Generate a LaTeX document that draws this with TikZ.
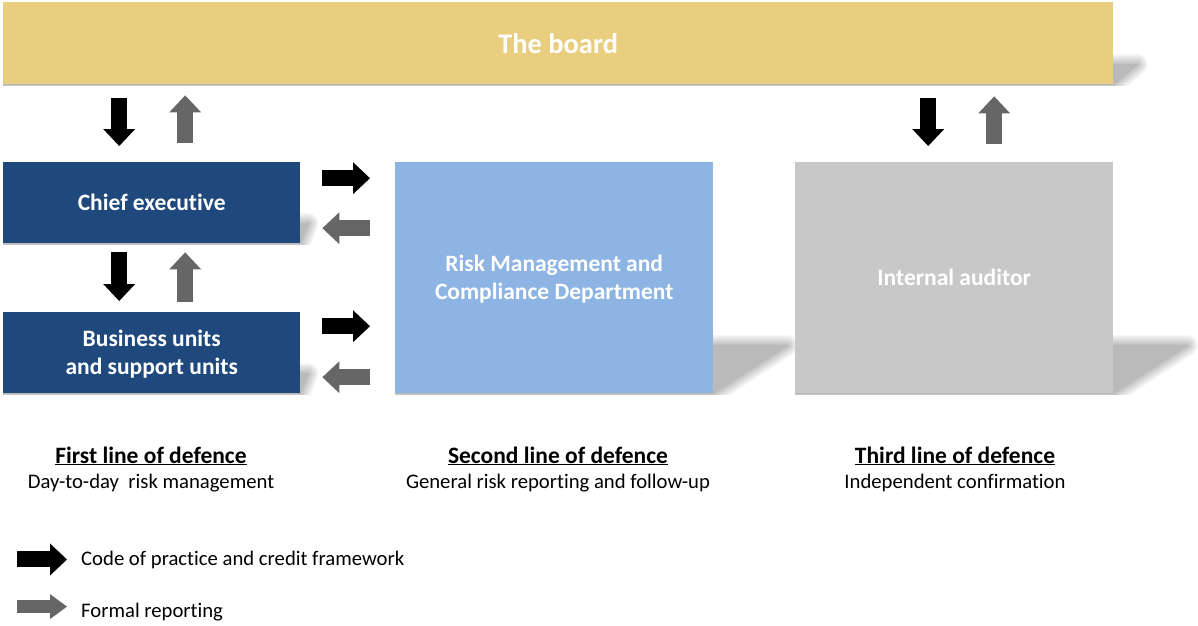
\documentclass[tikz,border=0pt]{standalone}
\usepackage{fontspec}
\setmainfont{Carlito}[Ligatures=NoCommon]
\usetikzlibrary{arrows.meta,positioning,calc,backgrounds}
\definecolor{boardgold}{RGB}{232,206,126}
\definecolor{unitblue}{RGB}{31,73,125}
\definecolor{riskblue}{RGB}{142,180,227}
\definecolor{auditgray}{RGB}{200,200,200}
\definecolor{reportgray}{RGB}{102,102,102}
\newcommand{\boxfont}{\fontsize{23.5}{28}\selectfont\bfseries}
\newcommand{\plainfont}{\fontsize{20.7}{24}\selectfont}
% soft perspective shadow behind a box: node, skew, height
\newcommand{\dropshadow}[3]{%
  \begin{scope}
    \clip (#1.north west) rectangle ($(#1.south east)+(#2+40,1)$);
    \foreach \w in {20,16,12,8,4,0}{
      \begin{scope}[transparency group,opacity=0.05]
        \filldraw[black,line width=\w pt,line join=round]
          (#1.south west) -- (#1.south east) -- ++(#2,-#3)
          -- ($(#1.south west)+(#2,-#3)$) -- cycle;
      \end{scope}}
  \end{scope}}

\begin{document}
\begin{tikzpicture}[x=1pt,y=-1pt,
  every node/.style={inner sep=0pt},
  panel/.style={rectangle,anchor=north west,text=white,align=center,
                text depth=0pt,font=\boxfont},
  boardbar/.style={panel,fill=boardgold,minimum width=1110pt,minimum height=82pt,
                   font=\fontsize{28.4}{32}\selectfont\bfseries},
  unitbox/.style={panel,fill=unitblue,minimum width=297pt,minimum height=81pt},
  bigbox/.style={panel,minimum width=318pt,minimum height=231pt},
  linehead/.style={anchor=base,font=\boxfont},
  linesub/.style={anchor=base,font=\plainfont},
  legtext/.style={anchor=base west,font=\plainfont},
  codearr/.style={draw=black,line width=16pt,
                  -{Triangle[length=17pt,width=32pt,line width=0pt]}},
  reparr/.style={draw=reportgray,line width=16pt,
                 -{Triangle[length=17pt,width=32pt,line width=0pt]}}]
\useasboundingbox (0,0) rectangle (1198,625);
%--- Boxes ---
\node[boardbar] (board) at (3,2) {The board};
\node[unitbox] (chief) at (3,162) {Chief executive};
\node[unitbox] (units) at (3,312) {Business units\\and support units};
\node[bigbox,fill=riskblue] (risk) at (395,162) {Risk Management and\\Compliance Department};
\node[bigbox,fill=auditgray] (audit) at (795,162) {Internal auditor};
%--- Shadows ---
\begin{scope}[on background layer]
  \dropshadow{board}{24}{20}
  \dropshadow{chief}{8}{20}
  \dropshadow{units}{8}{20}
  \dropshadow{risk}{74}{48}
  \dropshadow{audit}{74}{48}
\end{scope}
%--- Board and chief executive ---
\draw[codearr,shorten <=14pt,shorten >=16pt]
  ([xshift=-32.5pt]chief.north |- board.south) -- ([xshift=-32.5pt]chief.north);
\draw[reparr,shorten <=19pt,shorten >=11pt]
  ([xshift=33.5pt]chief.north) -- ([xshift=33.5pt]chief.north |- board.south);
%--- Chief executive and units ---
\draw[codearr,shorten <=9pt,shorten >=11pt]
  ([xshift=-32.5pt]chief.south) -- ([xshift=-32.5pt]chief.south |- units.north);
\draw[reparr,shorten <=10pt,shorten >=9pt]
  ([xshift=33.5pt]chief.south |- units.north) -- ([xshift=33.5pt]chief.south);
%--- Board and internal auditor ---
\draw[codearr,shorten <=14pt,shorten >=16pt]
  ([xshift=-26pt]audit.north |- board.south) -- ([xshift=-26pt]audit.north);
\draw[reparr,shorten <=18pt,shorten >=12pt]
  ([xshift=40pt]audit.north) -- ([xshift=40pt]audit.north |- board.south);
%--- First line to risk management ---
\draw[codearr,shorten <=22pt,shorten >=25pt]
  ([yshift=24.5pt]chief.east) -- ([yshift=24.5pt]chief.east -| risk.west);
\draw[reparr,shorten <=25pt,shorten >=22pt]
  ([yshift=-25.5pt]chief.east -| risk.west) -- ([yshift=-25.5pt]chief.east);
\draw[codearr,shorten <=22pt,shorten >=25pt]
  ([yshift=26.5pt]units.east) -- ([yshift=26.5pt]units.east -| risk.west);
\draw[reparr,shorten <=25pt,shorten >=22pt]
  ([yshift=-24.5pt]units.east -| risk.west) -- ([yshift=-24.5pt]units.east);
%--- Lines of defence ---
\node[linehead] (firsthd)  at (151,463) {\underline{First line of defence}};
\node[linesub]  (firstsub) at (151,488) {Day-to-day\ \ risk management};
\node[linehead] (secondhd)  at (558,463) {\underline{Second line of defence}};
\node[linesub]  (secondsub) at (558,488) {General risk reporting and follow-up};
\node[linehead] (thirdhd)  at (955,463) {\underline{Third line of defence}};
\node[linesub]  (thirdsub) at (955,488) {Independent confirmation};
%--- Legend ---
\node[legtext] (lgcode) at (81,565) {Code of practice and credit framework};
\node[legtext] (lgrep)  at (81,617) {Formal reporting};
\draw[codearr] ([xshift=-64pt]lgcode.west) -- ([xshift=-14pt]lgcode.west);
\draw[reparr,line width=13pt,-{Triangle[length=17pt,width=25pt,line width=0pt]}]
  ([xshift=-64pt,yshift=5pt]lgrep.west) -- ([xshift=-14pt,yshift=5pt]lgrep.west);
\end{tikzpicture}
\end{document}
